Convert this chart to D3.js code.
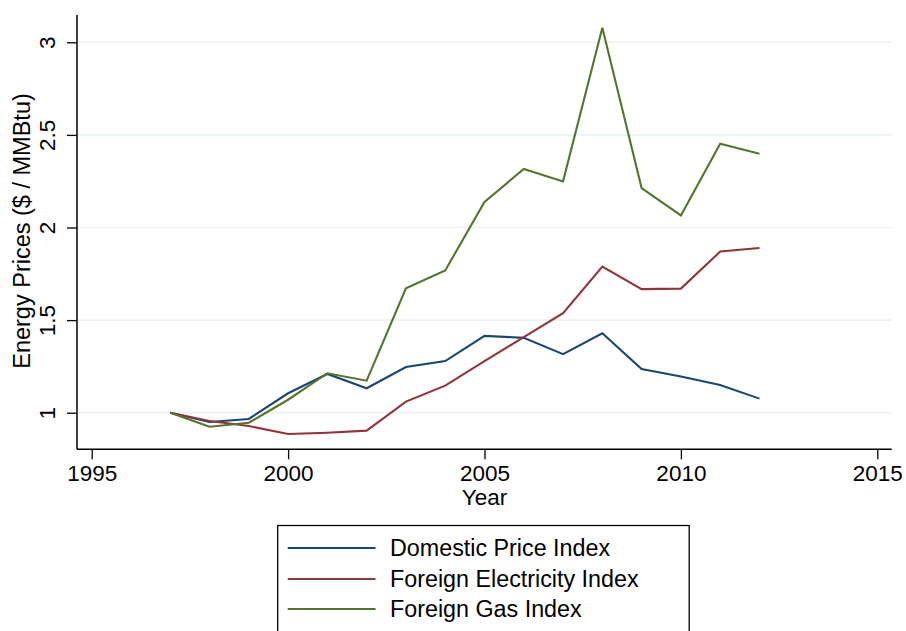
<!DOCTYPE html>
<html>
<head>
<meta charset="utf-8">
<script src="https://cdn.jsdelivr.net/npm/d3@7"></script>
<style>
  html, body { margin: 0; padding: 0; background: #fff; }
  text { font-family: "Liberation Sans", Arial, Helvetica, sans-serif; fill: #000; }
</style>
</head>
<body>
<svg id="chart" width="906" height="631"></svg>
<script>
const years = [1997,1998,1999,2000,2001,2002,2003,2004,2005,2006,2007,2008,2009,2010,2011,2012];
const domestic = [1.0,0.95,0.966,1.105,1.209,1.132,1.247,1.279,1.415,1.404,1.316,1.429,1.236,1.195,1.15,1.076];
const electricity = [1.0,0.955,0.928,0.885,0.892,0.903,1.06,1.146,1.279,1.408,1.537,1.789,1.667,1.67,1.87,1.889];
const gas = [1.0,0.924,0.946,1.07,1.213,1.173,1.672,1.768,2.138,2.316,2.249,3.078,2.213,2.065,2.452,2.398];
const seriesNames = ["Domestic Price Index","Foreign Electricity Index","Foreign Gas Index"];
const seriesColors = ["#1a476f","#90353b","#55752f"];
const xTicks = [1995,2000,2005,2010,2015];
const yTicks = [1,1.5,2,2.5,3];
const xTitle = "Year";
const yTitle = "Energy Prices ($ / MMBtu)";

const svg = d3.select("#chart");
const plotLeft = 77, plotRight = 891.7, plotTop = 15, plotBottom = 449.3;

const x = d3.scaleLinear().domain([1995, 2015]).range([91.7, 877.3]);
const y = d3.scaleLinear().domain([1, 3]).range([412.7, 42.3]);

// gridlines
svg.append("g").selectAll("line").data(yTicks).join("line")
  .attr("x1", plotLeft).attr("x2", plotRight)
  .attr("y1", d => y(d)).attr("y2", d => y(d))
  .attr("stroke", "#eaf2f3").attr("stroke-width", 1.6);

// y axis
const yAxis = d3.axisLeft(y).tickValues(yTicks).tickSize(10).tickSizeOuter(0)
  .tickFormat(d3.format("~g"));
const gy = svg.append("g").attr("transform", `translate(${plotLeft},0)`).call(yAxis);
gy.select(".domain").remove();
gy.selectAll(".tick line").attr("stroke", "#000").attr("stroke-width", 1.3);
gy.selectAll(".tick text").remove();
gy.selectAll(".tick").append("text")
  .attr("transform", "translate(-22,0) rotate(-90)")
  .attr("text-anchor", "middle")
  .attr("font-size", 22.5)
  .text(d => d3.format("~g")(d));
svg.append("line").attr("x1", plotLeft).attr("x2", plotLeft).attr("y1", plotTop).attr("y2", plotBottom)
  .attr("stroke", "#000").attr("stroke-width", 1.5);

// x axis
const xAxis = d3.axisBottom(x).tickValues(xTicks).tickSize(10).tickSizeOuter(0)
  .tickFormat(d3.format("d"));
const gx = svg.append("g").attr("transform", `translate(0,${plotBottom})`).call(xAxis);
gx.select(".domain").remove();
gx.selectAll(".tick line").attr("stroke", "#000").attr("stroke-width", 1.3);
gx.selectAll(".tick text").attr("font-size", 22.5).attr("y", 32).attr("dy", 0)
  .attr("font-family", "Liberation Sans, Arial, sans-serif").attr("fill", "#000");
svg.append("line").attr("x1", plotLeft).attr("x2", plotRight).attr("y1", plotBottom).attr("y2", plotBottom)
  .attr("stroke", "#000").attr("stroke-width", 1.5);

// titles
svg.append("text").attr("x", x(2005)).attr("y", 505).attr("text-anchor", "middle")
  .attr("font-size", 22.5).text(xTitle);
svg.append("text").attr("transform", `translate(30,231) rotate(-90)`)
  .attr("text-anchor", "middle").attr("font-size", 23.5).text(yTitle);

// lines
const allSeries = [domestic, electricity, gas];
const line = d3.line().x((d, i) => x(years[i])).y(d => y(d));
svg.append("g").selectAll("path").data(allSeries).join("path")
  .attr("d", d => line(d))
  .attr("fill", "none")
  .attr("stroke", (d, i) => seriesColors[i])
  .attr("stroke-width", 2.1)
  .attr("stroke-linejoin", "miter");

// legend
const lg = svg.append("g");
lg.append("rect").attr("x", 277.7).attr("y", 525.5).attr("width", 411.5).attr("height", 130)
  .attr("fill", "#fff").attr("stroke", "#000").attr("stroke-width", 1.3);
const rowsY = [548, 579, 609];
seriesNames.forEach((name, i) => {
  lg.append("line").attr("x1", 287.7).attr("x2", 375.5)
    .attr("y1", rowsY[i]).attr("y2", rowsY[i])
    .attr("stroke", seriesColors[i]).attr("stroke-width", 2.1);
  lg.append("text").attr("x", 390).attr("y", rowsY[i]).attr("dy", "0.36em")
    .attr("font-size", 23.3).text(name);
});
</script>
</body>
</html>
